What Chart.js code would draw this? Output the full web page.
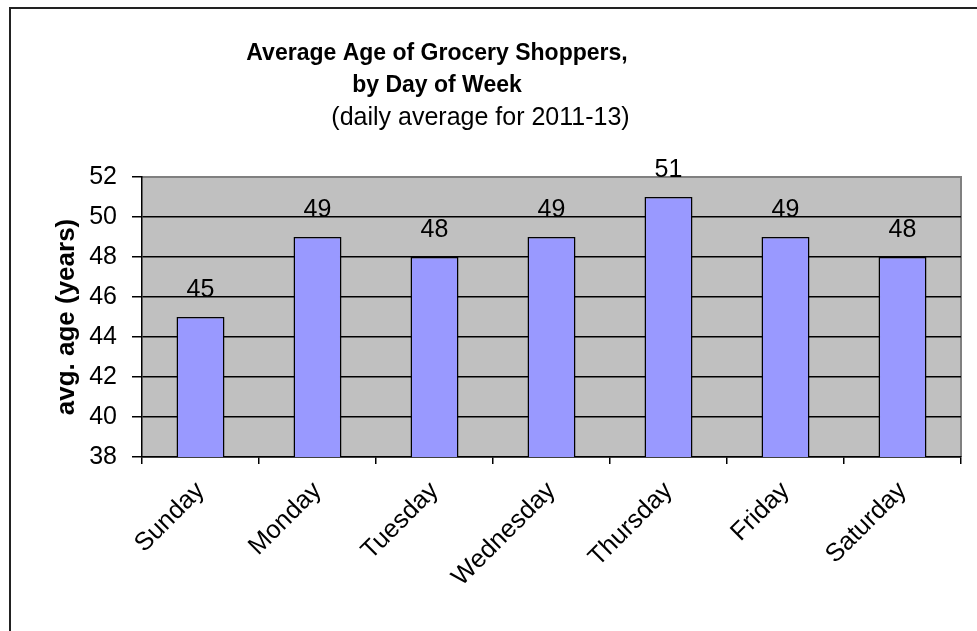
<!DOCTYPE html>
<html>
<head>
  <title>Average Age of Grocery Shoppers</title>
  <script src="https://cdn.jsdelivr.net/npm/chart.js"></script>
  <style>
    html, body {
      margin: 0;
      padding: 0;
      background: #fff;
      overflow: hidden;
    }
    #frame {
      position: absolute;
      left: 9px;
      top: 7px;
      width: 2000px;
      height: 2000px;
      border-top: 2px solid #222;
      border-left: 2px solid #222;
    }
    #chart {
      position: absolute;
      left: 0;
      top: 0;
    }
  </style>
</head>
<body>
  <div id="frame"></div>
  <canvas id="chart" width="977" height="631"></canvas>

  <script>
    // date
    const days = ["Sunday", "Monday", "Tuesday", "Wednesday", "Thursday", "Friday", "Saturday"];
    const avgAge = [45, 49, 48, 49, 51, 49, 48];
    const yMin = 38;
    const yMax = 52;
    const yStep = 2;
    const titleLines = ["Average Age of Grocery Shoppers,", "by Day of Week"];

    const fontName = "'Liberation Sans', Arial, sans-serif";

    // fundal gri pentru zona de plotare + chenar gri sus/dreapta
    const plotBackground = {
      id: "plotBackground",
      beforeDraw(chart) {
        const { ctx, chartArea: a } = chart;
        ctx.save();
        ctx.fillStyle = "#C0C0C0";
        ctx.fillRect(a.left, a.top, a.right - a.left, a.bottom - a.top);
        ctx.strokeStyle = "#808080";
        ctx.lineWidth = 2;
        ctx.beginPath();
        ctx.moveTo(a.left, a.top);
        ctx.lineTo(a.right, a.top);
        ctx.lineTo(a.right, a.bottom);
        ctx.stroke();
        ctx.restore();
      }
    };

    // titlul pe doua randuri (centrat mai la stanga decat subtitlul, ca in original)
    const mainTitle = {
      id: "mainTitle",
      afterDraw(chart) {
        const { ctx } = chart;
        ctx.save();
        ctx.font = "bold 23px " + fontName;
        ctx.fillStyle = "#000";
        ctx.textAlign = "center";
        ctx.textBaseline = "middle";
        titleLines.forEach((line, i) => {
          ctx.fillText(line, 437, 54 + i * 32);
        });
        ctx.restore();
      }
    };

    // valorile deasupra barelor
    const valueLabels = {
      id: "valueLabels",
      afterDatasetsDraw(chart) {
        const { ctx } = chart;
        const meta = chart.getDatasetMeta(0);
        ctx.save();
        ctx.font = "25px " + fontName;
        ctx.fillStyle = "#000";
        ctx.textAlign = "center";
        ctx.textBaseline = "middle";
        meta.data.forEach((bar, i) => {
          ctx.fillText(String(avgAge[i]), bar.x, bar.y - 27);
        });
        ctx.restore();
      }
    };

    const ctx = document.getElementById("chart").getContext("2d");
    const chart = new Chart(ctx, {
      type: "bar",
      data: {
        labels: days,
        datasets: [
          {
            label: "avg. age",
            data: avgAge,
            backgroundColor: "#9999FF",
            borderColor: "#000",
            borderWidth: 1.5,
            barPercentage: 0.41,
            categoryPercentage: 1
          }
        ]
      },
      options: {
        responsive: false,
        animation: false,
        layout: {
          padding: { left: 0, right: 16, top: 0, bottom: 0 }
        },
        plugins: {
          legend: { display: false },
          tooltip: { enabled: false },
          title: { display: false },
          subtitle: {
            display: true,
            text: "(daily average for 2011-13)",
            color: "#000",
            font: { family: fontName, size: 25, weight: "normal", lineHeight: "32px" },
            padding: { top: 102, bottom: 43 }
          }
        },
        scales: {
          x: {
            offset: true,
            grid: {
              display: true,
              offset: true,
              drawOnChartArea: false,
              drawTicks: true,
              tickLength: 7,
              color: "#000",
              lineWidth: 1.5
            },
            border: { display: true, color: "#000", width: 1.5 },
            ticks: {
              color: "#000",
              font: { family: fontName, size: 25.5 },
              minRotation: 45,
              maxRotation: 45,
              padding: 12,
              autoSkip: false
            },
            afterFit(scale) {
              scale.height = 174;
            }
          },
          y: {
            min: yMin,
            max: yMax,
            grid: {
              color: (c) => (c.tick && c.tick.value === yMax ? "rgba(0,0,0,0)" : "#000"),
              tickColor: "#000",
              lineWidth: 1.5,
              tickLength: 10
            },
            border: { display: true, color: "#000", width: 1.5 },
            ticks: {
              stepSize: yStep,
              color: "#000",
              font: { family: fontName, size: 25 },
              padding: 15
            },
            title: {
              display: true,
              text: "avg. age (years)",
              color: "#000",
              font: { family: fontName, size: 26, weight: "bold", lineHeight: 1.2 },
              padding: { top: 51, bottom: 0 }
            },
            afterFit(scale) {
              scale.width = 142;
            }
          }
        }
      },
      plugins: [plotBackground, valueLabels, mainTitle]
    });
  </script>
</body>
</html>
